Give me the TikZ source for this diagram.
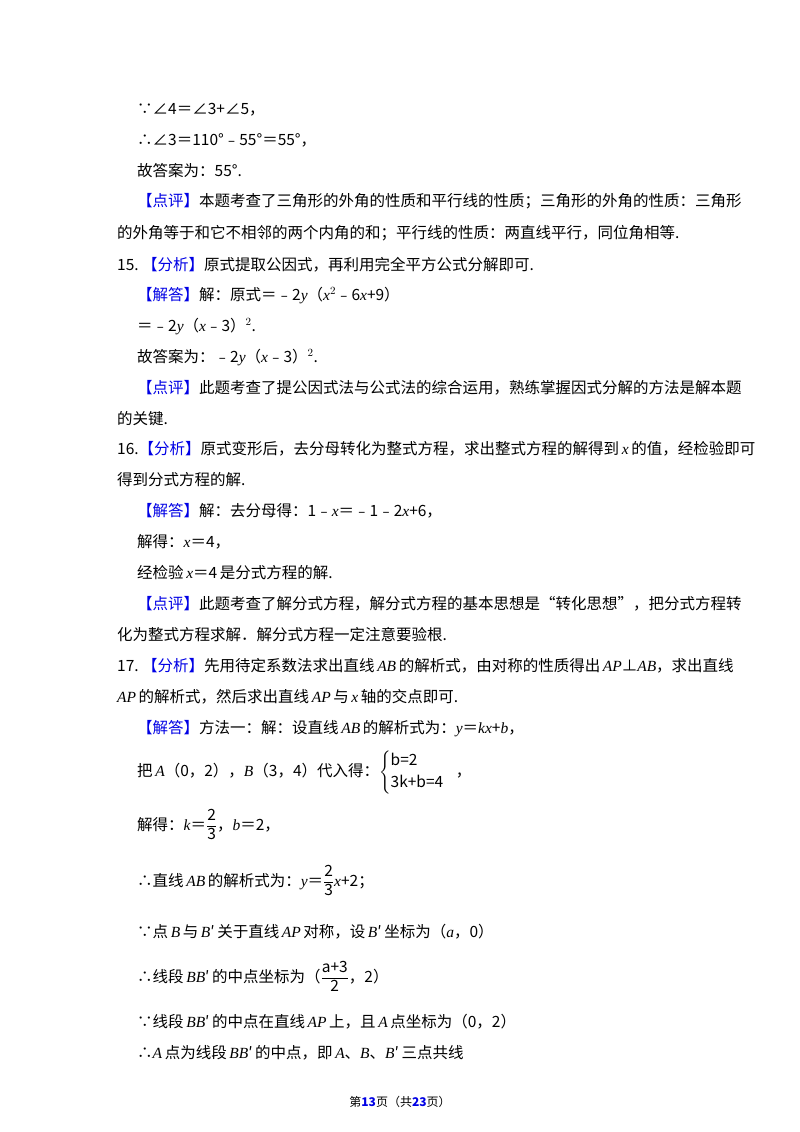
\documentclass[tikz,border=0pt]{standalone}
\usepackage{amsmath}
\usepackage{fontspec}
\setmainfont{Noto Sans CJK SC}
\newfontfamily\tm{Liberation Serif}
\newcommand{\vv}[1]{{\tm\itshape #1}}
\newcommand{\bk}[1]{\textcolor{blue!90!black}{【#1】}}
\begin{document}
\begin{tikzpicture}[x=1pt,y=1pt,every node/.style={anchor=base west,inner sep=0pt,font=\fontsize{15.5}{18}\selectfont}]
\useasboundingbox[fill=white] (0,0) rectangle (800,-1132);
\node (l1) at (137,-114) {∵∠4＝∠3+∠5，};
\node (l2) at (137,-145) {∴∠3＝110°﹣55°＝55°，};
\node (l3) at (137,-176) {故答案为：55°.};
\node (l4) at (137,-206) {\bk{点评}本题考查了三角形的外角的性质和平行线的性质；三角形的外角的性质：三角形};
\node (l5) at (117,-238) {的外角等于和它不相邻的两个内角的和；平行线的性质：两直线平行，同位角相等.};
\node (l6) at (117,-270) {15.\ \bk{分析}原式提取公因式，再利用完全平方公式分解即可.};
\node (l7) at (137,-300) {\bk{解答}解：原式＝﹣2\vv{y}（\vv{x}$^2$﹣6\vv{x}+9）};
\node (l8) at (137,-331) {＝﹣2\vv{y}（\vv{x}﹣3）$^2$.};
\node (l9) at (137,-362) {故答案为：﹣2\vv{y}（\vv{x}﹣3）$^2$.};
\node (l10) at (137,-393) {\bk{点评}此题考查了提公因式法与公式法的综合运用，熟练掌握因式分解的方法是解本题};
\node (l11) at (117,-424) {的关键.};
\node (l12) at (117,-454) {16.\bk{分析}原式变形后，去分母转化为整式方程，求出整式方程的解得到\,\vv{x}\,的值，经检验即可};
\node (l13) at (117,-485) {得到分式方程的解.};
\node (l14) at (137,-516) {\bk{解答}解：去分母得：1﹣\vv{x}＝﹣1﹣2\vv{x}+6，};
\node (l15) at (137,-547) {解得：\vv{x}＝4，};
\node (l16) at (137,-578) {经检验\,\vv{x}＝4\,是分式方程的解.};
\node (l17) at (137,-609) {\bk{点评}此题考查了解分式方程，解分式方程的基本思想是“转化思想”，把分式方程转};
\node (l18) at (117,-640) {化为整式方程求解．解分式方程一定注意要验根.};
\node (l19) at (117,-671) {17.\ \bk{分析}先用待定系数法求出直线\,\vv{AB}\,的解析式，由对称的性质得出\,\vv{AP}⊥\vv{AB}，求出直线};
\node (l20) at (117,-702) {\vv{AP}\,的解析式，然后求出直线\,\vv{AP}\,与\,\vv{x}\,轴的交点即可.};
\node (l21) at (137,-733) {\bk{解答}方法一：解：设直线\,\vv{AB}\,的解析式为：\vv{y}＝\vv{kx}+\vv{b}，};
\node (l22) at (137,-776) {把\,\vv{A}（0，2），\vv{B}（3，4）代入得：$\begin{cases}\text{b=2}\\ \text{3k+b=4}\end{cases}$\hspace{-4pt}，};
\node (l23) at (137,-830) {解得：\vv{k}＝$\dfrac{\text{2}}{\text{3}}$，\vv{b}＝2，};
\node (l24) at (137,-886) {∴直线\,\vv{AB}\,的解析式为：\vv{y}＝$\dfrac{\text{2}}{\text{3}}$\vv{x}+2；};
\node (l25) at (137,-937) {∵点\,\vv{B}\,与\,\vv{B}′\,关于直线\,\vv{AP}\,对称，设\,\vv{B}′\,坐标为（\vv{a}，0）};
\node (l26) at (137,-982) {∴线段\,\vv{BB}′\,的中点坐标为（$\dfrac{\text{a+3}}{\text{2}}$，2）};
\node (l27) at (137,-1027) {∵线段\,\vv{BB}′\,的中点在直线\,\vv{AP}\,上，且\,\vv{A}\,点坐标为（0，2）};
\node (l28) at (137,-1058) {∴\vv{A}\,点为线段\,\vv{BB}′\,的中点，即\,\vv{A}、\vv{B}、\vv{B}′\,三点共线};
\node[anchor=base,font=\fontsize{12}{14}\selectfont] (ft) at (400,-1106) {第\textcolor{blue!90!black}{\textbf{13}}页（共\textcolor{blue!90!black}{\textbf{23}}页）};
\end{tikzpicture}
\end{document}
